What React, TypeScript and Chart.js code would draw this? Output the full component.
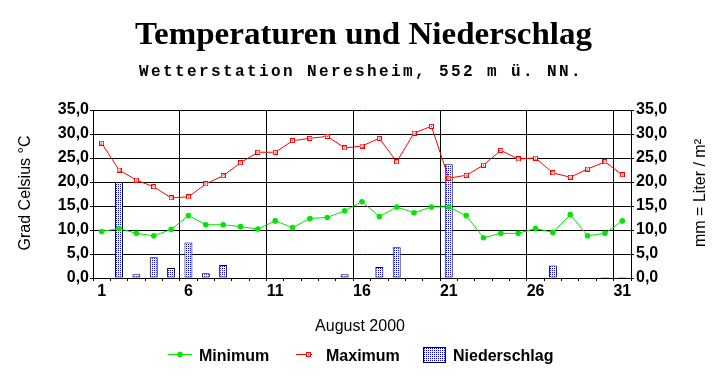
import React, { useEffect, useRef } from 'react';
import { Chart, registerables } from 'chart.js';

Chart.register(...registerables);

const TITLE = 'Temperaturen und Niederschlag';
const SUBTITLE = 'Wetterstation Neresheim, 552 m ü. NN.';
const X_TITLE = 'August 2000';
const Y_LEFT_TITLE = 'Grad Celsius °C';
const Y_RIGHT_TITLE = 'mm = Liter / m²';

const days = [
  '1', '2', '3', '4', '5', '6', '7', '8', '9', '10',
  '11', '12', '13', '14', '15', '16', '17', '18', '19', '20',
  '21', '22', '23', '24', '25', '26', '27', '28', '29', '30', '31',
];
const labeledDays = ['1', '6', '11', '16', '21', '26', '31'];

const minimumTemp = [
  9.7, 10.3, 9.3, 8.8, 10.1, 13.0, 11.1, 11.1, 10.7, 10.2,
  11.9, 10.5, 12.4, 12.6, 14.0, 15.9, 12.8, 14.8, 13.6, 14.8,
  14.8, 13.0, 8.4, 9.3, 9.3, 10.3, 9.5, 13.2, 8.8, 9.3, 11.9,
];
const maximumTemp = [
  28.1, 22.5, 20.4, 19.0, 16.7, 16.9, 19.6, 21.3, 24.0, 26.2,
  26.2, 28.6, 29.1, 29.5, 27.1, 27.5, 29.1, 24.2, 30.2, 31.6,
  20.8, 21.4, 23.5, 26.6, 24.8, 25.0, 21.9, 21.0, 22.7, 24.2, 21.5,
];
const niederschlag = [
  0, 20.0, 0.8, 4.3, 2.1, 7.4, 1.0, 2.7, 0, 0,
  0, 0, 0, 0, 0.8, 0, 2.3, 6.4, 0, 0,
  23.7, 0, 0, 0, 0, 0, 2.6, 0, 0, 0.2, 0.2,
];

const GREEN = '#00e600';
const RED = '#ff0000';
const BLUE = '#0000ff';
const FONT = '"Liberation Sans", Arial, sans-serif';

function makePattern(): CanvasPattern | string {
  const pc = document.createElement('canvas');
  pc.width = 2;
  pc.height = 2;
  const p = pc.getContext('2d');
  if (!p) return BLUE;
  p.fillStyle = '#ffffff';
  p.fillRect(0, 0, 2, 2);
  p.fillStyle = BLUE;
  p.fillRect(0, 0, 1, 1);
  const ctx = document.createElement('canvas').getContext('2d');
  const pat = ctx ? ctx.createPattern(pc, 'repeat') : null;
  return pat || BLUE;
}

function makeSquare(): HTMLCanvasElement {
  const c = document.createElement('canvas');
  c.width = 5;
  c.height = 5;
  const g = c.getContext('2d');
  if (g) {
    g.fillStyle = RED;
    g.fillRect(0, 0, 5, 5);
    g.fillStyle = '#ffffff';
    g.fillRect(1, 1, 3, 3);
    g.fillStyle = RED;
    g.fillRect(2, 2, 1, 1);
  }
  return c;
}

export default function App() {
  const ref = useRef<HTMLCanvasElement | null>(null);

  useEffect(() => {
    const canvas = ref.current;
    if (!canvas) return;
    const pattern = makePattern();
    const square = makeSquare();

    const fmt = (v: any) => Number(v).toFixed(1).replace('.', ',');

    const textPlugin = {
      id: 'texts',
      afterDraw(chart: any) {
        const ctx: CanvasRenderingContext2D = chart.ctx;
        ctx.save();
        ctx.fillStyle = '#000';
        // Title
        ctx.font = 'bold 32px "Liberation Serif", "Times New Roman", serif';
        ctx.textAlign = 'left';
        ctx.textBaseline = 'alphabetic';
        const tw = ctx.measureText(TITLE).width;
        ctx.save();
        ctx.translate(135, 44);
        ctx.scale(457 / tw, 1);
        ctx.fillText(TITLE, 0, 0);
        ctx.restore();
        // Subtitle (monospace, fixed pitch)
        ctx.font = 'bold 16px "Liberation Mono", "Courier New", monospace';
        const chars = Array.from(SUBTITLE);
        chars.forEach((ch, i) => ctx.fillText(ch, 139 + i * 12, 76));
        // Axis titles
        ctx.font = '16px ' + FONT;
        ctx.textAlign = 'center';
        ctx.textBaseline = 'middle';
        ctx.save();
        ctx.translate(26, 193);
        ctx.rotate(-Math.PI / 2);
        ctx.fillText(Y_LEFT_TITLE, 0, 0);
        ctx.restore();
        ctx.save();
        ctx.translate(701, 193);
        ctx.rotate(-Math.PI / 2);
        ctx.fillText(Y_RIGHT_TITLE, 0, 0);
        ctx.restore();
        ctx.textBaseline = 'alphabetic';
        ctx.fillText(X_TITLE, 360, 331);
        // Legend
        ctx.textAlign = 'left';
        ctx.font = 'bold 16px ' + FONT;
        ctx.lineWidth = 1;
        ctx.strokeStyle = GREEN;
        ctx.beginPath();
        ctx.moveTo(168, 354.5);
        ctx.lineTo(192, 354.5);
        ctx.stroke();
        ctx.fillStyle = GREEN;
        ctx.beginPath();
        ctx.arc(180, 354.5, 2.8, 0, Math.PI * 2);
        ctx.fill();
        ctx.fillStyle = '#000';
        ctx.fillText('Minimum', 199, 361);

        ctx.strokeStyle = RED;
        ctx.beginPath();
        ctx.moveTo(296, 354.5);
        ctx.lineTo(312, 354.5);
        ctx.stroke();
        ctx.drawImage(square, 306, 352);
        ctx.fillStyle = '#000';
        ctx.fillText('Maximum', 326, 361);

        ctx.fillStyle = pattern as any;
        ctx.fillRect(423, 347, 23, 16);
        ctx.strokeStyle = '#000';
        ctx.strokeRect(423.5, 347.5, 22, 15);
        ctx.fillStyle = '#000';
        ctx.fillText('Niederschlag', 453, 361);
        ctx.restore();
      },
    };

    const tickFont = { family: FONT, size: 16, weight: 'bold' as const };

    const chart = new Chart(canvas, {
      data: {
        labels: days,
        datasets: [
          {
            type: 'line',
            label: 'Minimum',
            data: minimumTemp,
            yAxisID: 'y',
            borderColor: GREEN,
            backgroundColor: GREEN,
            borderWidth: 1,
            pointRadius: 2.8,
            pointBorderWidth: 0,
            pointStyle: 'circle',
            tension: 0,
            order: 1,
          },
          {
            type: 'line',
            label: 'Maximum',
            data: maximumTemp,
            yAxisID: 'y',
            borderColor: RED,
            backgroundColor: '#ffffff',
            borderWidth: 1,
            pointStyle: square as any,
            pointRadius: 3,
            tension: 0,
            order: 2,
          },
          {
            type: 'bar',
            label: 'Niederschlag',
            data: niederschlag,
            yAxisID: 'y1',
            backgroundColor: pattern as any,
            borderColor: '#000000',
            borderWidth: 1,
            borderSkipped: false,
            barPercentage: 0.46,
            categoryPercentage: 1,
            order: 3,
          },
        ] as any,
      },
      options: {
        responsive: false,
        animation: false,
        events: [],
        layout: { padding: { top: 110, left: 0, right: 0, bottom: 0 } },
        plugins: { legend: { display: false }, tooltip: { enabled: false }, title: { display: false } },
        scales: {
          x: {
            type: 'category',
            offset: true,
            grid: {
              offset: true,
              color: (c: any) => (typeof c.index === 'number' && c.index % 5 === 0 ? '#000000' : 'rgba(0,0,0,0)'),
              tickColor: '#000000',
              tickLength: 3,
              lineWidth: 1,
            },
            border: { color: '#000000' },
            ticks: {
              autoSkip: false,
              maxRotation: 0,
              minRotation: 0,
              color: '#000000',
              font: tickFont,
              padding: 1,
              callback: (_v: any, i: number) => (labeledDays.includes(days[i]) ? days[i] : ''),
            },
            afterFit: (s: any) => {
              s.height = 106;
            },
          },
          y: {
            position: 'left',
            min: 0,
            max: 35,
            ticks: { stepSize: 5, color: '#000000', font: tickFont, padding: 1, callback: fmt },
            grid: { color: '#000000', tickColor: '#000000', tickLength: 3, lineWidth: 1 },
            border: { color: '#000000' },
            afterFit: (s: any) => {
              s.width = 93;
            },
          },
          y1: {
            position: 'right',
            min: 0,
            max: 35,
            ticks: { stepSize: 5, color: '#000000', font: tickFont, padding: 2, callback: fmt },
            grid: { drawOnChartArea: false, color: '#000000', tickColor: '#000000', tickLength: 3 },
            border: { color: '#000000' },
            afterFit: (s: any) => {
              s.width = 94;
            },
          },
        },
      } as any,
      plugins: [textPlugin],
    });

    return () => {
      chart.destroy();
    };
  }, []);

  return (
    <div style={{ position: 'absolute', left: 0, top: 0, width: 725, height: 384, background: '#ffffff' }}>
      <canvas ref={ref} width={725} height={384} style={{ display: 'block', width: 725, height: 384 }} />
    </div>
  );
}
